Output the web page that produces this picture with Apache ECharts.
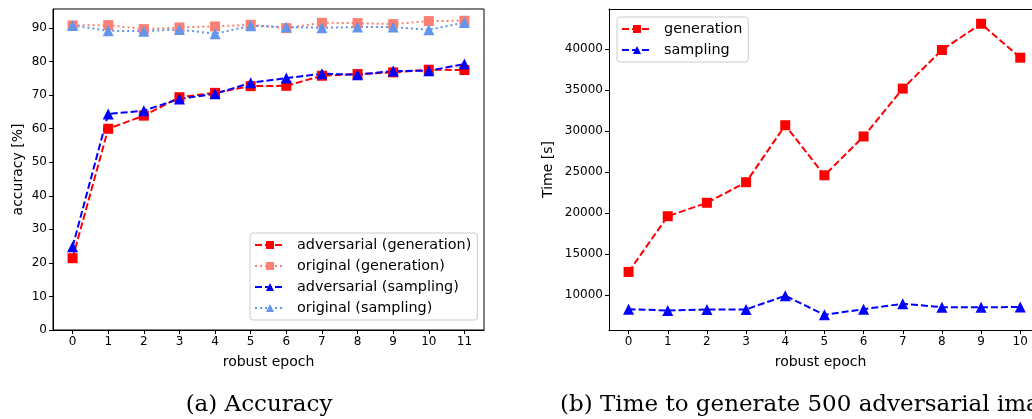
<!DOCTYPE html>
<html lang="en">
<head>
  <meta charset="utf-8">
  <script src="https://cdn.jsdelivr.net/npm/echarts@6.0.0/dist/echarts.min.js"></script>
</head>
<body style="margin: 0; background: #fff">
  <div id="container" style="width: 1032px; height: 419px"></div>
  <script type="text/javascript">
    // robust epochs
    var epochs = [0, 1, 2, 3, 4, 5, 6, 7, 8, 9, 10, 11];
    var timeEpochs = [0, 1, 2, 3, 4, 5, 6, 7, 8, 9, 10];

    // (a) accuracy [%]
    var advGeneration = [21.4, 60.0, 63.9, 69.4, 70.7, 72.7, 72.8, 75.8, 76.3, 76.8, 77.6, 77.5];
    var origGeneration = [90.8, 90.9, 89.7, 90.2, 90.5, 91.0, 90.0, 91.6, 91.5, 91.2, 92.1, 92.2];
    var advSampling = [24.8, 64.4, 65.4, 68.9, 70.4, 73.7, 75.1, 76.4, 76.1, 77.2, 77.3, 79.3];
    var origSampling = [90.8, 89.2, 89.1, 89.6, 88.3, 90.7, 90.3, 90.1, 90.3, 90.3, 89.5, 91.7];

    // (b) time [s]  (the panel is cut off at the right edge of the picture)
    var timeGeneration = [12800, 19600, 21240, 23750, 30700, 24590, 29330, 35170, 39880, 43080, 38940];
    var timeSampling = [8260, 8100, 8220, 8230, 9900, 7570, 8260, 8920, 8500, 8500, 8520];

    var accTicks = [0, 10, 20, 30, 40, 50, 60, 70, 80, 90];
    var timeTicks = [10000, 15000, 20000, 25000, 30000, 35000, 40000];

    function pairs(xs, ys) { return xs.map(function (x, i) { return [x, ys[i]]; }); }

    var font = 'DejaVu Sans';
    var dashed = { type: [7, 3], width: 2 };
    var dotted = { type: [2, 3], width: 2 };
    var black = { color: '#000', width: 1 };

    function xAxisOf(gridIndex, min, max, ticks) {
      return {
        gridIndex: gridIndex, type: 'value', min: min, max: max,
        name: 'robust epoch', nameLocation: 'middle', nameGap: 25,
        nameTextStyle: { fontFamily: font, fontSize: 14, color: '#000' },
        splitLine: { show: false },
        axisLine: { onZero: false, lineStyle: black },
        axisTick: { length: 4, lineStyle: { color: '#000' }, customValues: ticks },
        axisLabel: { fontFamily: font, fontSize: 12, color: '#000', margin: 6, customValues: ticks }
      };
    }
    // frame line along the top of a panel
    function topAxisOf(gridIndex, min, max) {
      return {
        gridIndex: gridIndex, type: 'value', position: 'top', min: min, max: max,
        splitLine: { show: false }, axisTick: { show: false }, axisLabel: { show: false },
        axisLine: { onZero: false, lineStyle: black }
      };
    }
    function yAxisOf(gridIndex, name, min, max, ticks, gap) {
      return {
        gridIndex: gridIndex, type: 'value', min: min, max: max,
        name: name, nameLocation: 'middle', nameGap: gap,
        nameTextStyle: { fontFamily: font, fontSize: 14, color: '#000' },
        splitLine: { show: false },
        axisLine: { show: true, onZero: false, lineStyle: black },
        axisTick: { length: 4, lineStyle: { color: '#000' }, customValues: ticks },
        axisLabel: {
          fontFamily: font, fontSize: 12, color: '#000', margin: 6, customValues: ticks,
          formatter: function (v) { return String(v); }
        }
      };
    }
    function line(name, xi, data, color, symbol, size, style) {
      return {
        name: name, type: 'line', xAxisIndex: xi, yAxisIndex: xi, data: data,
        symbol: symbol, symbolSize: size, showAllSymbol: true,
        itemStyle: { color: color }, lineStyle: Object.assign({ color: color }, style),
        emphasis: { disabled: true }, animation: false
      };
    }
    function legendOf(names, left, top) {
      return {
        data: names, orient: 'vertical', left: left, top: top,
        itemWidth: 30, itemHeight: 10, itemGap: 7,
        padding: [5, 6, 5, 4], backgroundColor: 'rgba(255,255,255,0.8)',
        borderColor: '#ccc', borderWidth: 1, borderRadius: 3,
        textStyle: { fontFamily: font, fontSize: 14.4, color: '#000', padding: [0, 0, 0, 7] }
      };
    }

    var chart = echarts.init(document.getElementById('container'), null, { renderer: 'canvas' });
    chart.setOption({
      animation: false,
      grid: [
        { left: 53, top: 9, width: 431, height: 321, show: true, borderColor: '#000', borderWidth: 1 },
        { left: 609, top: 9, right: 0, height: 321 }
      ],
      xAxis: [
        xAxisOf(0, -0.55, 11.55, epochs),
        xAxisOf(1, -0.5, 10.3, timeEpochs),
        topAxisOf(1, -0.5, 10.3)
      ],
      yAxis: [
        yAxisOf(0, 'accuracy [%]', 0, 95.7, accTicks, 28),
        yAxisOf(1, 'Time [s]', 5720, 44880, timeTicks, 54)
      ],
      legend: [
        legendOf(['adversarial (generation)', 'original (generation)', 'adversarial (sampling)', 'original (sampling)'], 250, 233),
        legendOf(['generation', 'sampling'], 617, 17)
      ],
      series: [
        line('adversarial (generation)', 0, pairs(epochs, advGeneration), '#ff0000', 'rect', 10, dashed),
        line('original (generation)', 0, pairs(epochs, origGeneration), '#fa8072', 'rect', 10, dotted),
        line('adversarial (sampling)', 0, pairs(epochs, advSampling), '#0000ff', 'triangle', 11, dashed),
        line('original (sampling)', 0, pairs(epochs, origSampling), '#6495ed', 'triangle', 11, dotted),
        line('generation', 1, pairs(timeEpochs, timeGeneration), '#ff0000', 'rect', 10, dashed),
        line('sampling', 1, pairs(timeEpochs, timeSampling), '#0000ff', 'triangle', 11, dashed)
      ],
      graphic: [
        { type: 'text', x: 259, y: 405, style: { text: '(a) Accuracy', font: '23px "DejaVu Serif"', fill: '#000', align: 'center', verticalAlign: 'middle' } },
        { type: 'text', x: 560, y: 405, style: { text: '(b) Time to generate 500 adversarial images', font: '23px "DejaVu Serif"', fill: '#000', align: 'left', verticalAlign: 'middle' } }
      ]
    });
  </script>
</body>
</html>
